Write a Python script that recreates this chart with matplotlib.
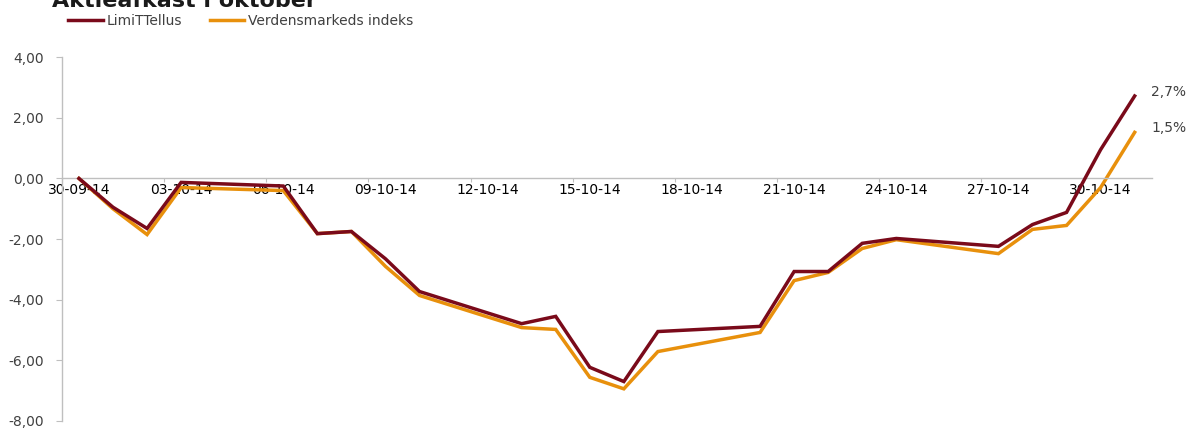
import matplotlib
matplotlib.use("Agg")
import matplotlib.pyplot as plt
import matplotlib.dates as mdates
import pandas as pd

dates = ["2014-09-30", "2014-10-01", "2014-10-02", "2014-10-03", "2014-10-06",
         "2014-10-07", "2014-10-08", "2014-10-09", "2014-10-10", "2014-10-13",
         "2014-10-14", "2014-10-15", "2014-10-16", "2014-10-17", "2014-10-20",
         "2014-10-21", "2014-10-22", "2014-10-23", "2014-10-24", "2014-10-27",
         "2014-10-28", "2014-10-29", "2014-10-30", "2014-10-31"]
limittellus = [0.00, -0.95, -1.65, -0.13, -0.25, -1.82, -1.75, -2.65, -3.73, -4.79,
               -4.55, -6.23, -6.70, -5.05, -4.88, -3.07, -3.07, -2.14, -1.98, -2.24,
               -1.52, -1.12, 0.95, 2.72]
verdensindeks = [0.00, -1.00, -1.85, -0.30, -0.40, -1.82, -1.75, -2.90, -3.86, -4.92,
                 -4.98, -6.56, -6.94, -5.71, -5.08, -3.37, -3.10, -2.31, -2.02, -2.48,
                 -1.68, -1.55, -0.30, 1.52]
series_names = ["LimiTTellus", "Verdensmarkeds indeks"]
end_labels = ["2,7%", "1,5%"]
title = "Aktieafkast i oktober"
yticks = [-8, -6, -4, -2, 0, 2, 4]

dark = "#7A0A1A"
orange = "#E8900C"
grey = "#BFBFBF"
txt = "#404040"

x = mdates.date2num(pd.to_datetime(dates))

fig = plt.figure(figsize=(11.91, 4.30), dpi=100)
ax = fig.add_axes([0.052, 0.021, 0.915, 0.846])

l1, = ax.plot(x, limittellus, color=dark, lw=2.5, solid_joinstyle="miter", zorder=3)
l2, = ax.plot(x, verdensindeks, color=orange, lw=2.5, solid_joinstyle="miter", zorder=2)

ax.set_ylim(-8, 4)
ax.set_xlim(x[0] - 0.5, x[-1] + 0.5)
ax.set_yticks(yticks)
ax.set_yticklabels([f"{v:.2f}".replace(".", ",") for v in yticks], fontsize=10, color=txt)
ax.tick_params(axis="y", length=4, width=0.8, color=grey, pad=9)

# x axis: ticks at slot boundaries every 3 days, labels at slot centres
start = x[0]
label_pos = [start + 3 * k for k in range(11)]
tick_pos = [p - 0.5 for p in label_pos]
ax.set_xticks(tick_pos)
ax.set_xticklabels([])
ax.set_xticks(label_pos, minor=True)
ax.set_xticklabels([mdates.num2date(p).strftime("%d-%m-%y") for p in label_pos],
                   minor=True, fontsize=7.2, color=txt)
ax.tick_params(axis="x", which="major", length=3, width=0.8, color=grey, direction="out")
ax.tick_params(axis="x", which="minor", length=0, pad=3)

ax.spines["bottom"].set_position(("data", 0))
for s in ["top", "right"]:
    ax.spines[s].set_visible(False)
for s in ["left", "bottom"]:
    ax.spines[s].set_color(grey)
    ax.spines[s].set_linewidth(1.0)

ax.annotate(end_labels[0], xy=(x[-1], limittellus[-1]), xytext=(12, 3),
            textcoords="offset points", fontsize=10, color=txt, va="center")
ax.annotate(end_labels[1], xy=(x[-1], verdensindeks[-1]), xytext=(12, 3),
            textcoords="offset points", fontsize=10, color=txt, va="center")

fig.legend([l1, l2], series_names, loc="upper left", bbox_to_anchor=(0.049, 0.99),
           ncol=2, frameon=False, fontsize=10, handlelength=2.5, handletextpad=0.25,
           columnspacing=2.0, borderaxespad=0.3, labelcolor=txt)

fig.text(0.044, 0.984, title, fontsize=16, fontweight="bold", color="#1a1a1a",
         va="baseline", ha="left")

ax.patch.set_alpha(0)
fig.savefig("out.png", dpi=100)
